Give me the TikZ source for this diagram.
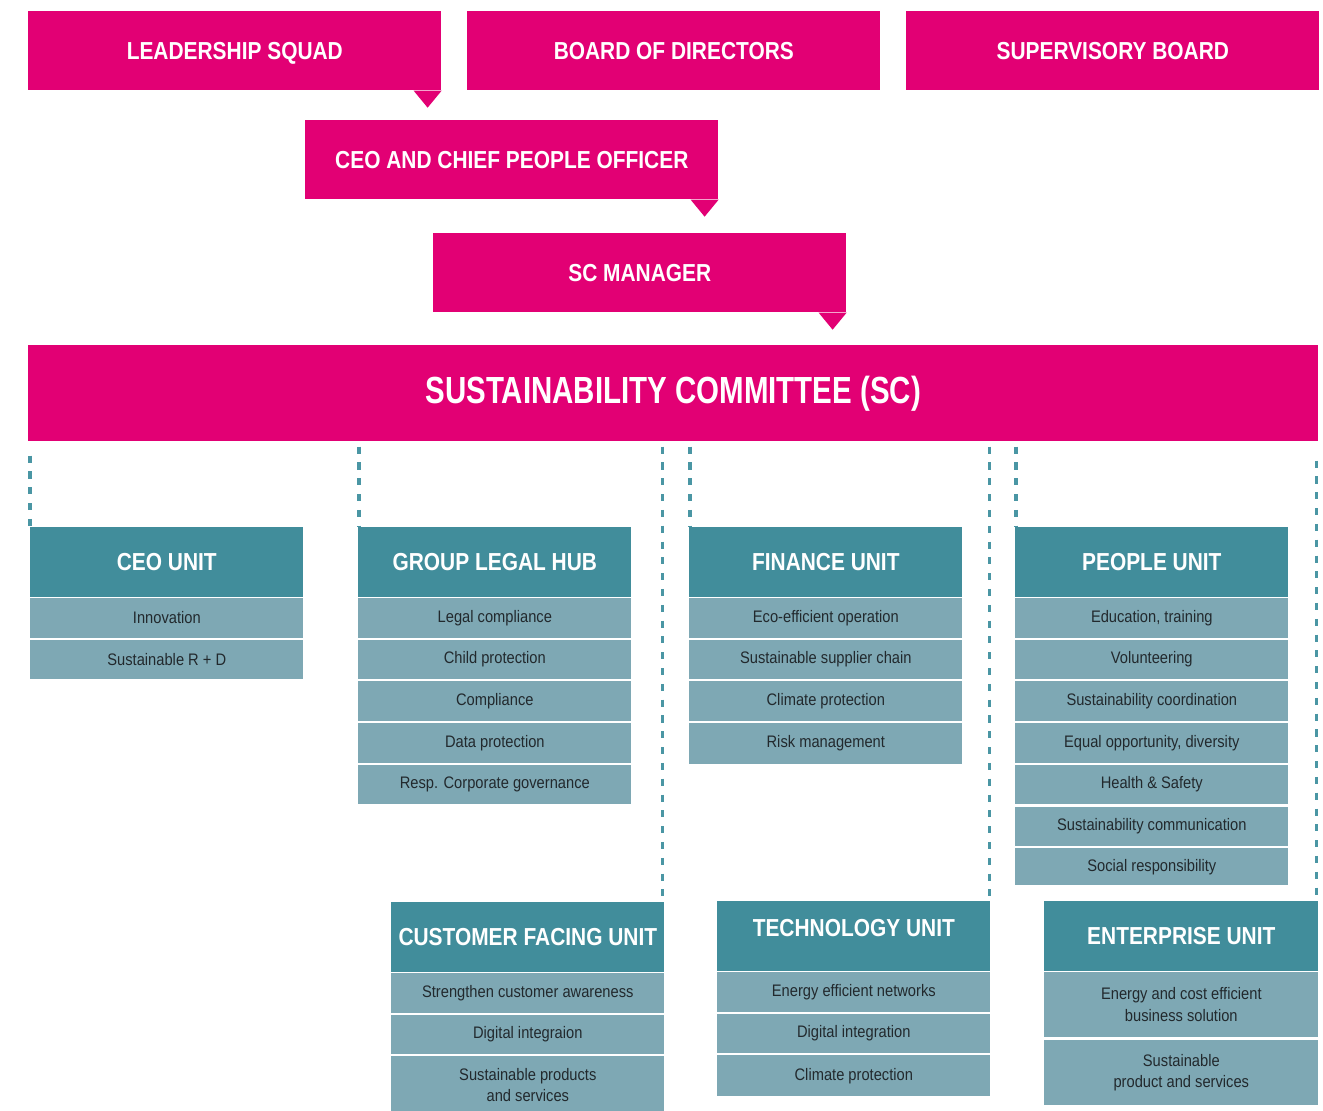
\documentclass[tikz,border=0pt]{standalone}
\usepackage{fontspec}
\setmainfont{Liberation Sans}
\newfontfamily\headfont[FakeStretch=0.85]{Liberation Sans}
\newfontfamily\titlefont[FakeStretch=0.78]{Liberation Sans}
\newfontfamily\bodyfont[FakeStretch=0.88]{Liberation Sans}
\usetikzlibrary{positioning}
\definecolor{tmag}{HTML}{E20074}
\definecolor{thead}{HTML}{418D9B}
\definecolor{trow}{HTML}{7EA8B4}
\definecolor{tdash}{HTML}{4A96A4}
\definecolor{ttext}{HTML}{22292D}
\begin{document}
\begin{tikzpicture}[x=0.02cm,y=-0.02cm,
  pinkbox/.style={fill=tmag,text=white,font=\headfont\bfseries\fontsize{14}{16}\selectfont,
    minimum width=8.26cm,minimum height=1.58cm,anchor=north west,inner sep=0pt,text depth=0pt},
  scbox/.style={fill=tmag,text=white,font=\titlefont\bfseries\fontsize{21.5}{24}\selectfont,
    minimum width=25.8cm,minimum height=1.92cm,anchor=north west,inner sep=0pt},
  pointer/.style={fill=tmag},
  unithead/.style={fill=thead,text=white,font=\headfont\bfseries\fontsize{14}{16}\selectfont,
    minimum width=5.46cm,minimum height=1.4cm,anchor=north west,inner sep=0pt,text depth=0pt},
  item/.style={fill=trow,text=ttext,font=\bodyfont\fontsize{9.5}{12}\selectfont,
    minimum width=5.46cm,minimum height=0.79cm,inner sep=0pt,align=center},
  tallitem/.style={item,minimum height=1.3cm},
  link/.style={draw=tdash,line width=1.8pt,dash pattern=on 4pt off 5pt}
]
\useasboundingbox[fill=white] (0,0) rectangle (1323,1111);

% ---- top boxes ----
\node[pinkbox] (ls) at (28,11) {LEADERSHIP SQUAD};
\node[pinkbox] (bod) at (467,11) {BOARD OF DIRECTORS};
\node[pinkbox] (sb) at (906,11) {SUPERVISORY BOARD};
\node[pinkbox] (ceo) at (305,120) {CEO AND CHIEF PEOPLE OFFICER};
\node[pinkbox] (scm) at (433,233) {SC MANAGER};
\node[scbox] (sc) at (28,345) {SUSTAINABILITY COMMITTEE (SC)};

\fill[pointer] (ls.south east) -- ++(-28,0) -- ++(14,17) -- cycle;
\fill[pointer] (ceo.south east) -- ++(-28,0) -- ++(14,17) -- cycle;
\fill[pointer] (scm.south east) -- ++(-28,0) -- ++(14,17) -- cycle;

% ---- CEO unit ----
\node[unithead] (ceoh) at (30,527) {CEO UNIT};
\node[item,below=0pt of ceoh] (ceo1) {Innovation};
\node[item,below=0.03cm of ceo1] (ceo2) {Sustainable R + D};

% ---- Group legal hub ----
\node[unithead] (glh) at (358,527) {GROUP LEGAL HUB};
\node[item,below=0pt of glh] (gl1) {Legal compliance};
\node[item,below=0.03cm of gl1] (gl2) {Child protection};
\node[item,below=0.03cm of gl2] (gl3) {Compliance};
\node[item,below=0.03cm of gl3] (gl4) {Data protection};
\node[item,below=0.03cm of gl4] (gl5) {Resp. Corporate governance};

% ---- Finance unit ----
\node[unithead] (fih) at (689,527) {FINANCE UNIT};
\node[item,below=0pt of fih] (fi1) {Eco-efficient operation};
\node[item,below=0.03cm of fi1] (fi2) {Sustainable supplier chain};
\node[item,below=0.03cm of fi2] (fi3) {Climate protection};
\node[item,below=0.03cm of fi3,minimum height=0.82cm] (fi4) {Risk management};

% ---- People unit ----
\node[unithead] (peh) at (1015,527) {PEOPLE UNIT};
\node[item,below=0pt of peh] (pe1) {Education, training};
\node[item,below=0.03cm of pe1] (pe2) {Volunteering};
\node[item,below=0.03cm of pe2] (pe3) {Sustainability coordination};
\node[item,below=0.03cm of pe3] (pe4) {Equal opportunity, diversity};
\node[item,below=0.03cm of pe4] (pe5) {Health \& Safety};
\node[item,below=0.03cm of pe5] (pe6) {Sustainability communication};
\node[item,below=0.03cm of pe6,minimum height=0.74cm] (pe7) {Social responsibility};

% ---- Customer facing unit ----
\node[unithead] (cuh) at (391,902) {CUSTOMER FACING UNIT};
\node[item,below=0pt of cuh] (cu1) {Strengthen customer awareness};
\node[item,below=0.03cm of cu1] (cu2) {Digital integraion};
\node[item,below=0.03cm of cu2,minimum height=1.16cm] (cu3) {Sustainable products\\and services};

% ---- Technology unit ----
\node[unithead,text depth=0.35cm] (teh) at (717,901) {TECHNOLOGY UNIT};
\node[item,below=0pt of teh] (te1) {Energy efficient networks};
\node[item,below=0.03cm of te1] (te2) {Digital integration};
\node[item,below=0.03cm of te2,minimum height=0.82cm] (te3) {Climate protection};

% ---- Enterprise unit ----
\node[unithead,minimum width=5.48cm] (enh) at (1044,901) {ENTERPRISE UNIT};
\node[tallitem,minimum width=5.48cm,below=0pt of enh] (en1) {Energy and cost efficient\\business solution};
\node[tallitem,minimum width=5.48cm,below=0.04cm of en1] (en2) {Sustainable\\product and services};

% ---- dashed connectors ----
\draw[link] ([yshift=-0.28cm]sc.south -| ceoh.north west) -- (ceoh.north west);
\draw[link] ([yshift=-0.1cm,xshift=0.02cm]sc.south -| glh.north west) -- ([xshift=0.02cm]glh.north west);
\draw[link] ([yshift=-0.1cm,xshift=-0.04cm]sc.south -| cuh.north east) -- ([xshift=-0.04cm]cuh.north east);
\draw[link] ([yshift=-0.1cm,xshift=0.02cm]sc.south -| fih.north west) -- ([xshift=0.02cm]fih.north west);
\draw[link] ([yshift=-0.1cm,xshift=-0.02cm]sc.south -| teh.north east) -- ([xshift=-0.02cm]teh.north east);
\draw[link] ([yshift=-0.1cm,xshift=0.02cm]sc.south -| peh.north west) -- ([xshift=0.02cm]peh.north west);
\draw[link] ([yshift=-0.38cm,xshift=-0.04cm]sc.south -| enh.north east) -- ([xshift=-0.04cm]enh.north east);
\end{tikzpicture}
\end{document}
